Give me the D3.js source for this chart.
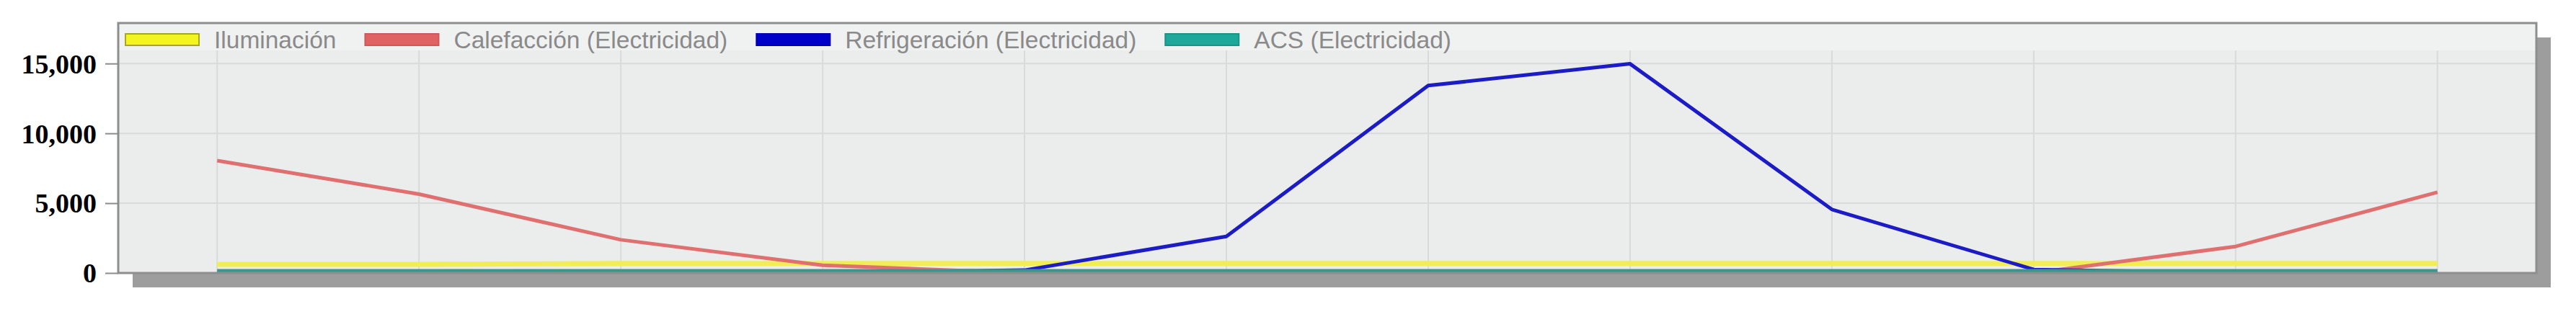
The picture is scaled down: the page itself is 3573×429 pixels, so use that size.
<!DOCTYPE html>
<html>
<head>
<meta charset="utf-8">
<script src="https://cdn.jsdelivr.net/npm/d3@7"></script>
<style>
    body { margin: 0; background: #fff; }
    .y-axis text { font-family: "Liberation Serif", "Times New Roman", serif; font-weight: bold; font-size: 38px; fill: #000; }
    .y-axis line { stroke: #8c8c8c; stroke-width: 2; }
    .legend text { font-family: "Liberation Sans", Arial, sans-serif; font-size: 33.5px; fill: #8a8a8a; }
    .grid line { stroke: #d9dada; stroke-width: 2; }
</style>
</head>
<body>
<svg id="chart"></svg>
<script>
"use strict";

// monthly values (kWh)
var months = ["Ene", "Feb", "Mar", "Abr", "May", "Jun", "Jul", "Ago", "Sep", "Oct", "Nov", "Dic"];
var iluminacion = [620, 620, 680, 680, 680, 680, 680, 680, 680, 680, 680, 680];
var calefaccion = [8050, 5650, 2380, 550, 0, 0, 0, 0, 0, 0, 1900, 5780];
var refrigeracion = [0, 0, 0, 0, 200, 2620, 13420, 14980, 4550, 250, 0, 0];
var acs = [160, 160, 160, 160, 160, 160, 160, 160, 160, 160, 160, 160];

var y_ticks = [0, 5000, 10000, 15000];
var y_max = 17900;

var series_names = ["Iluminación", "Calefacción (Electricidad)", "Refrigeración (Electricidad)", "ACS (Electricidad)"];
var series_values = [iluminacion, calefaccion, refrigeracion, acs];
var line_colors = ["#f1ed55", "#e07070", "#1c1cc6", "#3f948a"];
var swatch_colors = ["#f4f41e", "#e06262", "#0000c8", "#1ea89c"];
var swatch_borders = ["#a8a820", "#d05858", "#0000b0", "#189488"];

var width = 3573, height = 429;
var margin = { left: 164, right: 55, top: 32, bottom: 50 };
var plot_w = width - margin.left - margin.right,
    plot_h = height - margin.top - margin.bottom;

var svg = d3.select("#chart")
    .attr("width", width)
    .attr("height", height);

var x = d3.scalePoint()
    .domain(months)
    .range([0, plot_w])
    .padding(0.49);

var y = d3.scaleLinear()
    .domain([0, y_max])
    .range([plot_h, 0]);

var g = svg.append("g")
    .attr("transform", "translate(" + margin.left + "," + margin.top + ")");

// drop shadow behind the frame
g.append("rect")
    .attr("x", 20)
    .attr("y", 20)
    .attr("width", plot_w)
    .attr("height", plot_h)
    .attr("fill", "#9d9d9d");

// plot background, lighter band where the legend sits
g.append("rect")
    .attr("width", plot_w)
    .attr("height", plot_h)
    .attr("fill", "#ebecec");

g.append("rect")
    .attr("width", plot_w)
    .attr("height", 38)
    .attr("fill", "#f0f1f1");

g.append("clipPath")
    .attr("id", "plot-clip")
    .append("rect")
    .attr("width", plot_w)
    .attr("height", plot_h);

// grid
var grid = g.append("g").attr("class", "grid");

grid.selectAll("line.h")
    .data(y_ticks)
    .enter().append("line")
    .attr("class", "h")
    .attr("x1", 0)
    .attr("x2", plot_w)
    .attr("y1", function (d) { return y(d); })
    .attr("y2", function (d) { return y(d); });

grid.selectAll("line.v")
    .data(months)
    .enter().append("line")
    .attr("class", "v")
    .attr("x1", function (d) { return x(d); })
    .attr("x2", function (d) { return x(d); })
    .attr("y1", 38)
    .attr("y2", plot_h);

// series lines
var line = d3.line()
    .x(function (d, i) { return x(months[i]); })
    .y(function (d) { return y(d); });

var lines = g.append("g").attr("clip-path", "url(#plot-clip)");

// draw order: yellow, red, blue, then teal on top
[0, 1, 2, 3].forEach(function (k) {
    lines.append("path")
        .datum(series_values[k])
        .attr("fill", "none")
        .attr("stroke", line_colors[k])
        .attr("stroke-width", k === 0 ? 7 : 5)
        .attr("stroke-linejoin", "round")
        .attr("d", line);
});

// frame
g.append("rect")
    .attr("width", plot_w)
    .attr("height", plot_h)
    .attr("fill", "none")
    .attr("stroke", "#8e8e8e")
    .attr("stroke-width", 3);

// y axis
var y_axis = g.append("g")
    .attr("class", "y-axis")
    .call(d3.axisLeft(y)
        .tickValues(y_ticks)
        .tickFormat(d3.format(","))
        .tickSize(18)
        .tickPadding(12));

y_axis.select(".domain").remove();
y_axis.selectAll("text").attr("dy", "0.34em");

// legend
var legend = g.append("g")
    .attr("class", "legend")
    .attr("transform", "translate(10,15)");

var lx = 0;
for (var i = 0; i < series_names.length; i++) {
    var item = legend.append("g").attr("transform", "translate(" + lx + ",0)");
    item.append("rect")
        .attr("width", 102)
        .attr("height", 16)
        .attr("fill", swatch_colors[i])
        .attr("stroke", swatch_borders[i])
        .attr("stroke-width", 2);
    var label = item.append("text")
        .attr("x", 123)
        .attr("y", 8)
        .attr("dy", "0.35em")
        .text(series_names[i]);
    lx += 123 + label.node().getComputedTextLength() + 40;
}
</script>
</body>
</html>
